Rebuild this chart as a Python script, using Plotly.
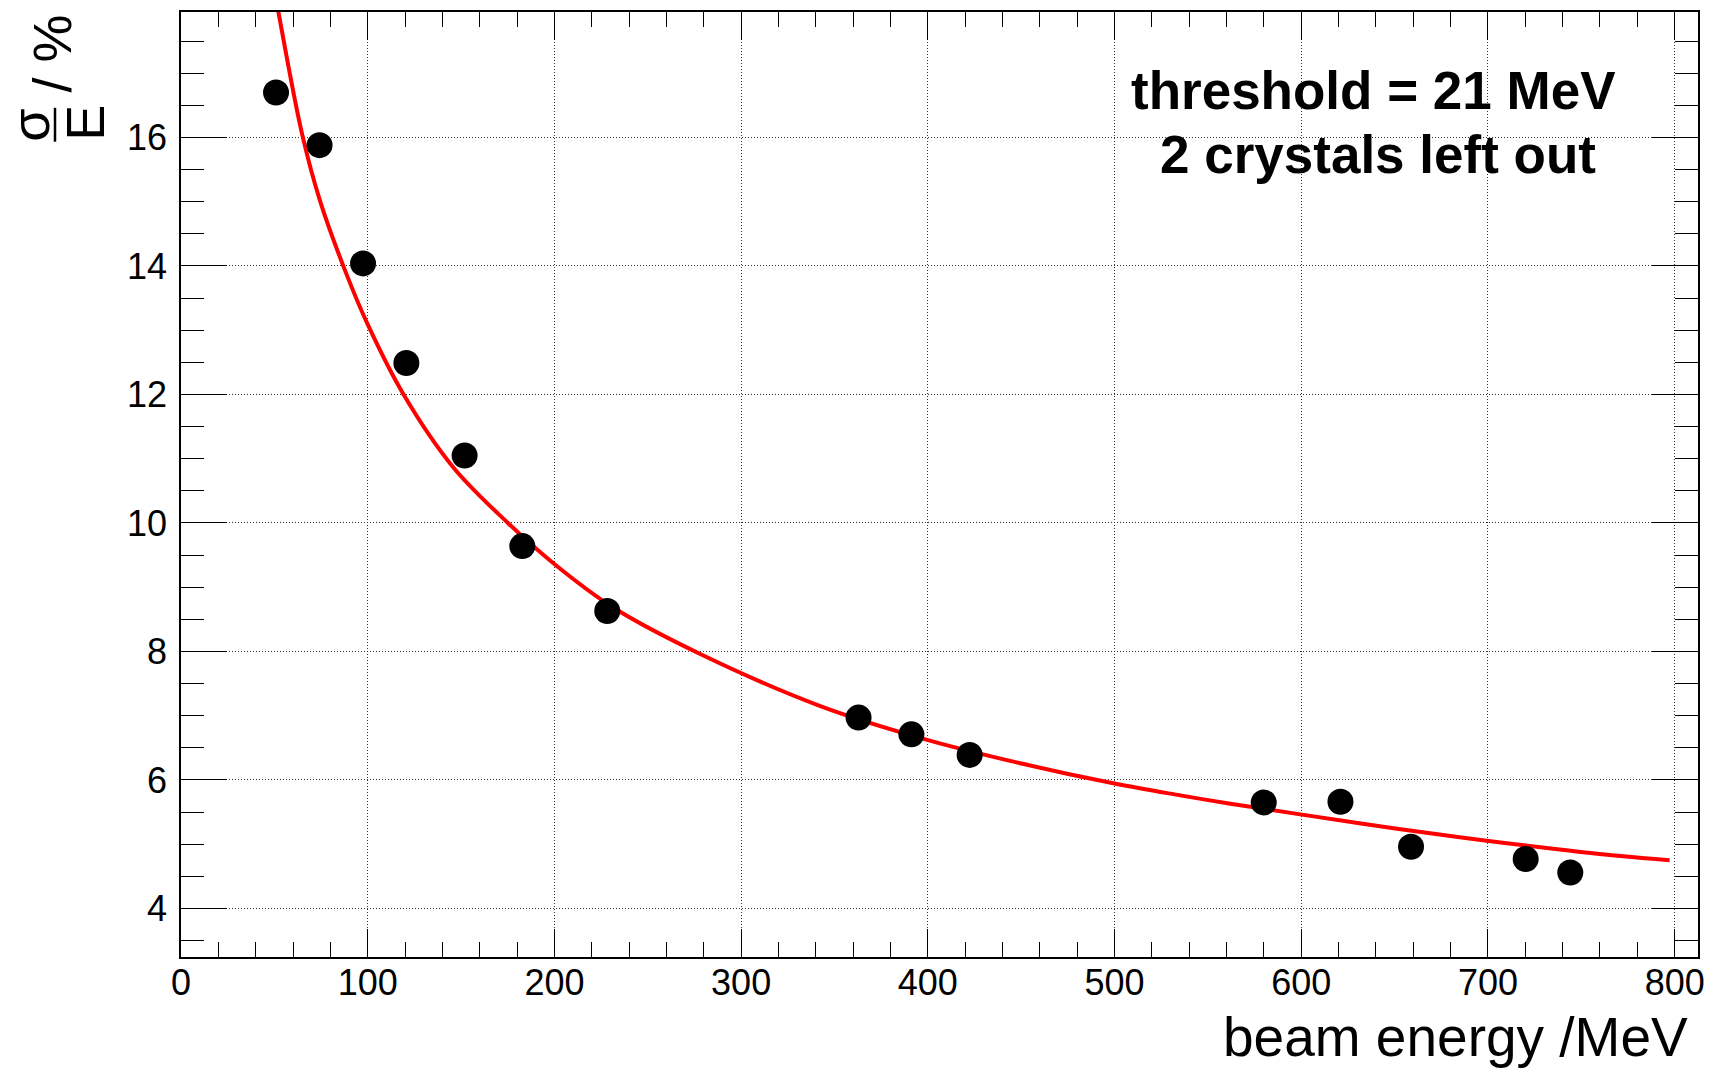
import plotly.graph_objects as go

# ---- data ----
energy = [50.9, 74.2, 97.5, 120.7, 151.9, 182.8, 228.3, 362.9, 391.2, 422.4,
          579.9, 621.0, 658.8, 720.2, 744.1]
resolution = [16.70, 15.88, 14.04, 12.49, 11.05, 9.64, 8.63, 6.97, 6.71, 6.39,
              5.65, 5.66, 4.96, 4.77, 4.56]

fit_energy = [50.0, 52.0, 64.8, 74.6, 88.0, 100.0, 119.2, 146.0, 175.1,
              199.6, 231.7, 278.1, 342.4, 400.1, 449.5, 500.6, 535.2, 562.0,
              600.4, 651.3, 700.4, 749.5, 797.3]
fit_resolution = [18.30, 17.98, 16.06, 15.00, 13.92, 13.09, 12.00, 10.86,
                  10.00, 9.37, 8.68, 7.96, 7.15, 6.62, 6.26, 5.94, 5.76, 5.63,
                  5.46, 5.24, 5.05, 4.88, 4.75]

x_ticks = [0, 100, 200, 300, 400, 500, 600, 700, 800]
y_ticks = [4, 6, 8, 10, 12, 14, 16]

x_title = "beam energy /MeV"
info_lines = ["threshold = 21 MeV", "2 crystals left out"]

# ---- layout geometry ----
W_FIG, H_FIG = 1715, 1069
ML, MR, MT, MB = 181, 17, 10, 112
PW = W_FIG - ML - MR
PH = H_FIG - MT - MB
FONT = "Liberation Sans, Arial, Helvetica, sans-serif"


def px(x):
    return (x - ML) / PW


def py(y):
    return (H_FIG - MB - y) / PH


fig = go.Figure()
fig.add_trace(go.Scatter(x=fit_energy, y=fit_resolution, mode="lines",
                         line=dict(color="#ff0000", width=4, shape="spline", smoothing=1.0),
                         showlegend=False, hoverinfo="skip"))
fig.add_trace(go.Scatter(x=energy, y=resolution, mode="markers",
                         marker=dict(color="black", size=26, line=dict(width=0)),
                         showlegend=False))

axis_common = dict(
    showline=True, linecolor="black", linewidth=1.5, mirror="ticks",
    ticks="inside", tickcolor="black", tickwidth=1.2,
    showgrid=True, gridcolor="#333333", gridwidth=1, griddash="1px,2px",
    zeroline=False,
    tickfont=dict(family=FONT, size=36, color="black"),
)

fig.update_xaxes(range=[0, 812.5], tickvals=x_ticks, ticktext=[str(v) for v in x_ticks],
                 ticklen=28, ticklabelstandoff=-7,
                 minor=dict(ticks="inside", ticklen=15, dtick=20, tick0=0, tickcolor="black",
                            tickwidth=1.2, showgrid=False),
                 **axis_common)
fig.update_yaxes(range=[3.244, 17.953], tickvals=y_ticks, ticktext=[str(v) for v in y_ticks],
                 ticklen=46, ticklabelstandoff=5,
                 minor=dict(ticks="inside", ticklen=23, dtick=0.5, tick0=0, tickcolor="black",
                            tickwidth=1.2, showgrid=False),
                 **axis_common)

annotations = [
    dict(text=x_title, xref="paper", yref="paper", x=1, y=py(1037),
         xanchor="right", yanchor="middle", xshift=-8, showarrow=False,
         font=dict(family=FONT, size=55, color="black")),
    dict(text="<b>%s</b>" % info_lines[0], xref="paper", yref="paper",
         x=px(1373), y=py(88.5), xanchor="center", yanchor="middle", showarrow=False,
         font=dict(family=FONT, size=53, color="black")),
    dict(text="<b>%s</b>" % info_lines[1], xref="paper", yref="paper",
         x=px(1378), y=py(153), xanchor="center", yanchor="middle", showarrow=False,
         font=dict(family=FONT, size=53, color="black")),
    # y-axis title: sigma over E, then " / %"
    dict(text="σ", xref="paper", yref="paper", x=px(30.5), y=py(123.5),
         xanchor="center", yanchor="middle", textangle=-90, showarrow=False,
         font=dict(family=FONT, size=54, color="black")),
    dict(text="E", xref="paper", yref="paper", x=px(85), y=py(121),
         xanchor="center", yanchor="middle", textangle=-90, showarrow=False,
         font=dict(family=FONT, size=54, color="black")),
    dict(text="/ %", xref="paper", yref="paper", x=px(52), y=py(51.5),
         xanchor="center", yanchor="middle", textangle=-90, showarrow=False,
         font=dict(family=FONT, size=54, color="black")),
]

shapes = [
    dict(type="line", xref="paper", yref="paper", x0=px(55), x1=px(55),
         y0=py(106), y1=py(140), line=dict(color="black", width=2.5)),
]

fig.update_layout(
    width=W_FIG, height=H_FIG,
    margin=dict(l=ML, r=MR, t=MT, b=MB, pad=0),
    paper_bgcolor="white", plot_bgcolor="white",
    annotations=annotations, shapes=shapes,
    font=dict(family=FONT, color="black"),
)

fig.write_html("out.html", config={"displayModeBar": False},
               post_script="document.body.style.margin='0';document.body.style.overflow='hidden';")
